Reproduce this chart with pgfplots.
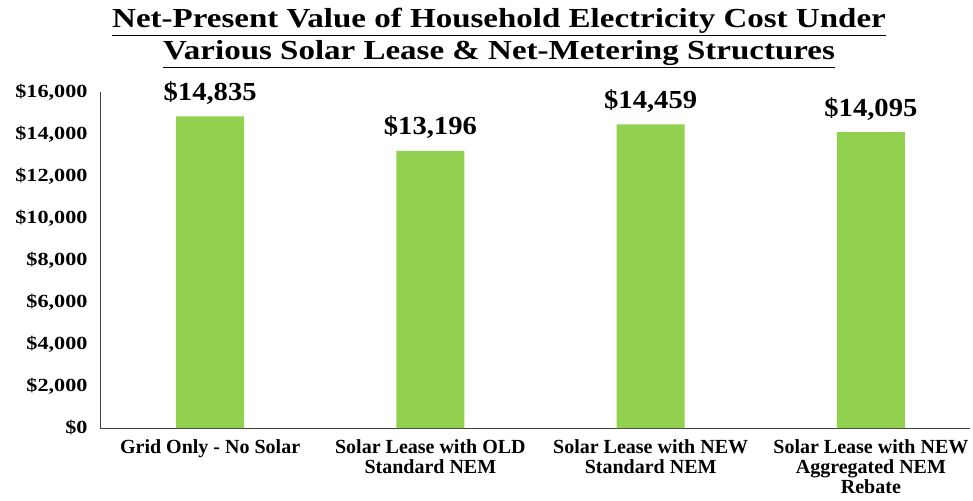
\documentclass[border=0pt]{standalone}
\usepackage{fontspec}
\setmainfont{Liberation Serif}
\newfontfamily\wideA[FakeStretch=1.2]{Liberation Serif}
\newfontfamily\wideB[FakeStretch=1.1]{Liberation Serif}
\usepackage{pgfplots}
\pgfplotsset{compat=1.18}
\definecolor{bargreen}{HTML}{92D050}
\begin{document}
\begin{tikzpicture}[x=1pt,y=1pt]
\path[use as bounding box] (0,0) rectangle (973,500);
\node[font=\wideA\bfseries\fontsize{27.5}{30}\selectfont, anchor=base, inner sep=0pt] at (499,472) {\underline{Net-Present Value of Household Electricity Cost Under}};
\node[font=\wideA\bfseries\fontsize{27.5}{30}\selectfont, anchor=base, inner sep=0pt] at (499,440) {\underline{Various Solar Lease \& Net-Metering Structures}};
\begin{axis}[
  at={(100pt,72pt)}, anchor=south west,
  scale only axis, width=870pt, height=336pt,
  ybar, bar width=68pt,
  xmin=-0.5, xmax=3.45,
  ymin=0, ymax=16000,
  axis lines*=left,
  axis line style={black!75, line width=0.8pt},
  xtick=data,
  xticklabels={{Grid Only - No Solar},{Solar Lease with OLD\\Standard NEM},{Solar Lease with NEW\\Standard NEM},{Solar Lease with NEW\\Aggregated NEM\\Rebate}},
  xticklabel style={align=center, font=\bfseries\fontsize{20}{20}\selectfont, yshift=-8pt},
  ytick={0,2000,...,16000},
  scaled y ticks=false,
  yticklabel={\$\pgfmathprintnumber{\tick}},
  /pgf/number format/.cd, 1000 sep={,}, assume math mode=true, /pgfplots/.cd,
  yticklabel style={font=\wideA\bfseries\fontsize{18.5}{20}\selectfont, xshift=-9pt},
  major tick length=0pt,
  nodes near coords={\$\pgfmathprintnumber[1000 sep={,}]{\pgfplotspointmeta}},
  nodes near coords style={font=\wideB\bfseries\fontsize{26}{28}\selectfont, black, anchor=base, yshift=16pt},
  clip=false,
]
\addplot[fill=bargreen, draw=none] coordinates {(0,14835) (1,13196) (2,14459) (3,14095)};
\end{axis}
\end{tikzpicture}
\end{document}
